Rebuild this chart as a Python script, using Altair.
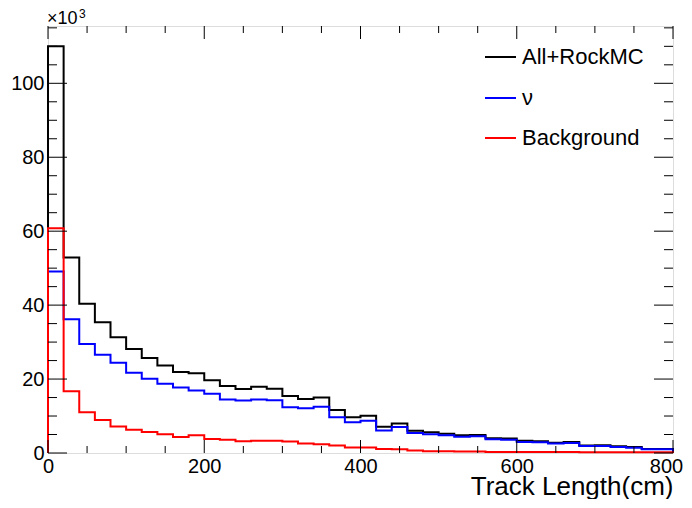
import altair as alt
import pandas as pd

# ---------------- data (values in units of 10^3 entries per 20 cm bin) ----------------
bin_width = 20
x_min, x_max = 0, 800
y_max = 115.5

all_rock = [110.0, 52.9, 40.4, 35.4, 31.3, 28.1, 25.7, 23.7, 21.9, 21.6,
            19.7, 18.1, 17.3, 17.9, 17.4, 15.4, 14.6, 15.0, 11.6, 9.7,
            10.1, 7.1, 8.0, 6.0, 5.6, 5.2, 4.8, 4.9, 4.0, 3.9,
            3.3, 3.2, 2.8, 3.0, 2.0, 2.1, 1.8, 1.6, 1.1, 1.1]
nu = [49.1, 36.2, 29.5, 26.6, 24.4, 21.7, 20.1, 18.7, 17.7, 16.9,
      16.0, 14.5, 14.2, 14.5, 14.3, 12.4, 12.1, 12.5, 9.7, 8.3,
      8.7, 6.1, 7.0, 5.4, 5.1, 4.8, 4.4, 4.5, 3.7, 3.6,
      3.0, 2.9, 2.6, 2.7, 1.9, 1.9, 1.6, 1.4, 1.0, 1.0]
background = [60.8, 16.7, 11.0, 8.9, 7.2, 6.3, 5.7, 5.1, 4.3, 4.8,
              3.8, 3.6, 3.2, 3.3, 3.3, 3.1, 2.6, 2.4, 2.0, 1.5,
              1.5, 1.1, 1.0, 0.7, 0.5, 0.5, 0.4, 0.4, 0.3, 0.3,
              0.3, 0.3, 0.3, 0.3, 0.2, 0.2, 0.2, 0.2, 0.2, 0.2]

series_names = ["All+RockMC", "ν", "Background"]
series_values = [all_rock, nu, background]
series_colors = ["#000000", "#0000ff", "#ff0000"]

x_major = [0, 200, 400, 600, 800]
x_minor = [v for v in range(0, 801, 50) if v % 200]
y_major = [0, 20, 40, 60, 80, 100]
y_minor = [v for v in range(5, 116, 5) if v % 20]

# ---------------- layout ----------------
W, H = 625, 427
FONT = "Liberation Sans"


def step_frame(vals):
    rows = [{"x": x_min, "y": 0.0, "i": 0}]
    for k, v in enumerate(vals):
        rows.append({"x": x_min + k * bin_width, "y": v, "i": k + 1})
    rows.append({"x": x_max, "y": vals[-1], "i": len(vals) + 1})
    rows.append({"x": x_max, "y": 0.0, "i": len(vals) + 2})
    return pd.DataFrame(rows)


X = alt.X("x:Q",
          scale=alt.Scale(domain=[x_min, x_max], nice=False, zero=False),
          axis=alt.Axis(values=x_major, grid=False, ticks=False, domain=False,
                        labelFont=FONT, labelFontSize=20, labelColor="black",
                        labelPadding=3, labelFlush=False,
                        labelOffset={"condition": {"test": "datum.value == 800", "value": -7},
                                     "value": 0},
                        title="Track Length(cm)", titleFont=FONT, titleFontSize=26,
                        titleFontWeight="normal", titleColor="black",
                        titleAnchor="end", titleAlign="right", titleBaseline="alphabetic",
                        titleX=W, titleY=41))
Y = alt.Y("y:Q",
          scale=alt.Scale(domain=[0, y_max], nice=False, zero=True),
          axis=alt.Axis(values=y_major, grid=False, ticks=False, domain=False,
                        labelFont=FONT, labelFontSize=20, labelColor="black",
                        labelPadding=4, labelFlush=False, title=None))

layers = []

# histograms (step lines)
for name, vals, col in zip(series_names, series_values, series_colors):
    layers.append(
        alt.Chart(step_frame(vals)).mark_line(
            interpolate="step-after", color=col, strokeWidth=2
        ).encode(x=X, y=Y, order="i:Q")
    )

# inward ticks, ROOT style, on all four sides
xt_major = pd.DataFrame({"x": x_major})
xt_minor = pd.DataFrame({"x": x_minor})
yt_major = pd.DataFrame({"y": y_major})
yt_minor = pd.DataFrame({"y": y_minor})
for df, ln in [(xt_major, 13), (xt_minor, 7)]:
    layers.append(alt.Chart(df).mark_rule(color="black", strokeWidth=1).encode(
        x=X, y=alt.value(H), y2=alt.value(H - ln)))
    layers.append(alt.Chart(df).mark_rule(color="black", strokeWidth=1).encode(
        x=X, y=alt.value(0), y2=alt.value(ln)))
for df, ln in [(yt_major, 19), (yt_minor, 9)]:
    layers.append(alt.Chart(df).mark_rule(color="black", strokeWidth=1).encode(
        y=Y, x=alt.value(0), x2=alt.value(ln)))
    layers.append(alt.Chart(df).mark_rule(color="black", strokeWidth=1).encode(
        y=Y, x=alt.value(W), x2=alt.value(W - ln)))

# exponent label
layers.append(alt.Chart(pd.DataFrame({"t": ["×10"]})).mark_text(
    font=FONT, fontSize=18, align="left", baseline="alphabetic", color="black"
).encode(text="t:N", x=alt.value(-1), y=alt.value(-2)))
layers.append(alt.Chart(pd.DataFrame({"t": ["3"]})).mark_text(
    font=FONT, fontSize=12, align="left", baseline="alphabetic", color="black"
).encode(text="t:N", x=alt.value(31), y=alt.value(-8)))

# legend
leg_y = [31, 72, 112]
for name, col, yy in zip(series_names, series_colors, leg_y):
    layers.append(alt.Chart(pd.DataFrame({"t": [name]})).mark_rule(
        color=col, strokeWidth=2
    ).encode(x=alt.value(437), x2=alt.value(468), y=alt.value(yy)))
    layers.append(alt.Chart(pd.DataFrame({"t": [name]})).mark_text(
        font=FONT, fontSize=22, align="left", baseline="middle", color="black"
    ).encode(text="t:N", x=alt.value(474), y=alt.value(yy)))

chart = alt.layer(*layers).properties(
    width=W, height=H,
    padding={"left": 40, "top": 18, "right": 11, "bottom": 46},
    autosize=alt.AutoSizeParams(type="none"),
).configure_view(stroke="black", strokeWidth=2).configure(background="white")

chart.save("out.html", embed_options={"renderer": "svg", "actions": False})
